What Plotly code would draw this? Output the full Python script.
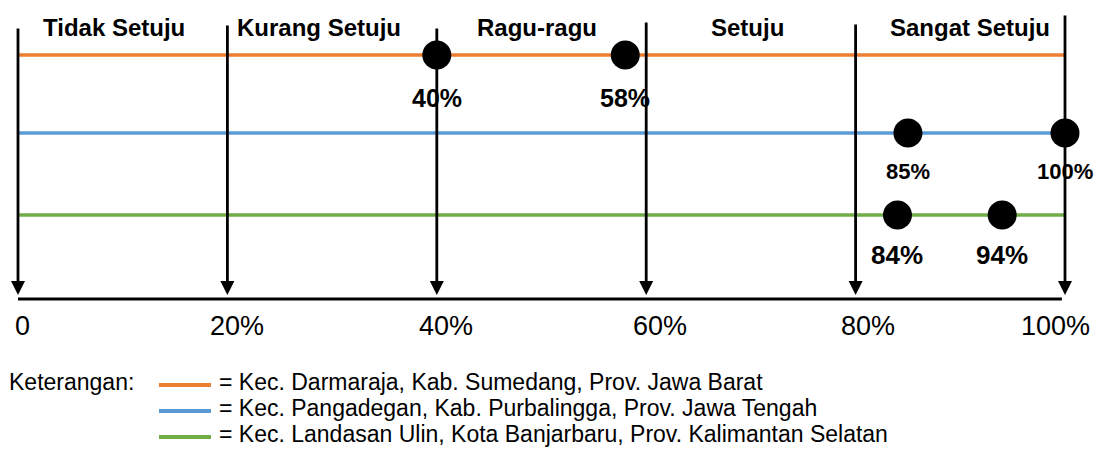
import plotly.graph_objects as go

# ---------------- data ----------------
categories = ["Tidak Setuju", "Kurang Setuju", "Ragu-ragu", "Setuju", "Sangat Setuju"]
tick_values = [0, 20, 40, 60, 80, 100]
tick_labels = ["0", "20%", "40%", "60%", "80%", "100%"]

series_names = [
    "Kec. Darmaraja, Kab. Sumedang, Prov. Jawa Barat",
    "Kec. Pangadegan, Kab. Purbalingga, Prov. Jawa Tengah",
    "Kec. Landasan Ulin, Kota Banjarbaru, Prov. Kalimantan Selatan",
]
darmaraja_values = [40, 58]
pangadegan_values = [85, 100]
landasan_values = [84, 94]
series_values = [darmaraja_values, pangadegan_values, landasan_values]

legend_title = "Keterangan:"

# ---------------- style / layout ----------------
PAGE_W, PAGE_H = 1108, 450
OFF = 8                                   # default body margin of the html page
W, H = PAGE_W - OFF, PAGE_H - OFF
colors = ["#ED7D31", "#5B9BD5", "#70AD47"]
row_y = [55, 133, 215]                    # vertical position of each series row
label_offset = [43, 38, 40]               # distance of value label below the dot
label_size = [25, 22, 26]
arrow_tops = [27, 24, 27, 21, 23, 14]
arrow_tip_y = 295
axis_line_y = 299
cat_label_y = 27
cat_label_shift = [-9, -13, -5, -3, 10]
tick_label_y = 326
tick_label_shift = [4, 10, 9, 14, 12, -10]
legend_rows_y = [382, 408, 434]

FONT = "Liberation Sans, Arial, sans-serif"

# x axis: 0 -> 18 px, 100 -> 1065 px on the page
px_per_unit = (1065 - 18) / 100.0
x_range = [(OFF - 18) / px_per_unit, (PAGE_W - 18) / px_per_unit]


def paper_x(page_px):
    return (page_px - OFF) / W


fig = go.Figure()

# series lines
for name, col, y in zip(series_names, colors, row_y):
    fig.add_trace(go.Scatter(
        x=[tick_values[0], tick_values[-1]], y=[y, y], mode="lines",
        line=dict(color=col, width=3.5), name=name, showlegend=False, hoverinfo="skip"))

annotations = []
shapes = []

# bottom axis line
shapes.append(dict(type="line", xref="x", yref="y",
                   x0=tick_values[0], x1=tick_values[-1] - 0.3,
                   y0=axis_line_y, y1=axis_line_y,
                   line=dict(color="black", width=3)))

# vertical arrows at each tick
for tv, top in zip(tick_values, arrow_tops):
    annotations.append(dict(
        x=tv, y=arrow_tip_y, ax=tv, ay=top, xref="x", yref="y", axref="x", ayref="y",
        text="", showarrow=True, arrowhead=2, arrowsize=1.0, arrowwidth=2.8,
        arrowcolor="black", standoff=0, startstandoff=0))

# dots and value labels
for vals, y, off, fs in zip(series_values, row_y, label_offset, label_size):
    fig.add_trace(go.Scatter(
        x=vals, y=[y] * len(vals), mode="markers",
        marker=dict(size=29, color="black"), showlegend=False, hoverinfo="skip"))
    for v in vals:
        annotations.append(dict(
            x=v, y=y + off, xref="x", yref="y", text=f"<b>{v}%</b>", showarrow=False,
            font=dict(family=FONT, size=fs, color="black"),
            xanchor="center", yanchor="middle"))

# category labels (between ticks)
for i, cat in enumerate(categories):
    mid = (tick_values[i] + tick_values[i + 1]) / 2
    annotations.append(dict(
        x=mid, y=cat_label_y, xref="x", yref="y", text=f"<b>{cat}</b>", showarrow=False,
        xshift=cat_label_shift[i],
        font=dict(family=FONT, size=24, color="black"), xanchor="center", yanchor="middle"))

# tick labels
for tv, tl, sh in zip(tick_values, tick_labels, tick_label_shift):
    annotations.append(dict(
        x=tv, y=tick_label_y, xref="x", yref="y", text=tl, showarrow=False, xshift=sh,
        font=dict(family=FONT, size=27, color="black"), xanchor="center", yanchor="middle"))

# legend block
annotations.append(dict(
    x=paper_x(7), y=legend_rows_y[0], xref="paper", yref="y", text=legend_title,
    showarrow=False, font=dict(family=FONT, size=23, color="black"),
    xanchor="left", yanchor="middle"))
for name, col, ly in zip(series_names, colors, legend_rows_y):
    shapes.append(dict(type="line", xref="paper", yref="y",
                       x0=paper_x(159), x1=paper_x(211), y0=ly + 3, y1=ly + 3,
                       line=dict(color=col, width=4)))
    annotations.append(dict(
        x=paper_x(217), y=ly, xref="paper", yref="y", text="= " + name, showarrow=False,
        font=dict(family=FONT, size=23, color="black"), xanchor="left", yanchor="middle"))

fig.update_layout(
    width=W, height=H,
    margin=dict(l=0, r=0, t=0, b=0),
    paper_bgcolor="white", plot_bgcolor="white",
    xaxis=dict(range=x_range, visible=False, fixedrange=True),
    yaxis=dict(range=[PAGE_H, OFF], visible=False, fixedrange=True),
    annotations=annotations, shapes=shapes,
    showlegend=False,
)

fig.write_html("out.html")
